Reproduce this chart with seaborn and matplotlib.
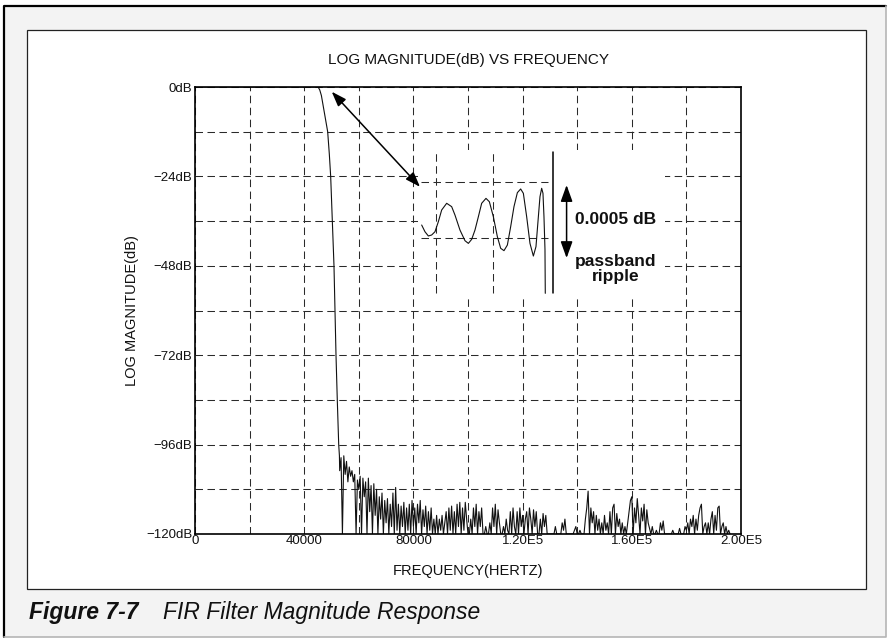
import numpy as np
import pandas as pd
import matplotlib
matplotlib.use("Agg")
import matplotlib.pyplot as plt
import seaborn as sns
from matplotlib.patches import Rectangle
from matplotlib.lines import Line2D

# ---------------- data ----------------
# passband (flat at 0 dB)
pass_freq = [0, 45100]
pass_db = [0.0, 0.0]

# transition band roll-off
trans_freq = [45100, 45700, 46300, 46800, 47500, 48000, 48600, 49200, 49700,
              50290, 50910, 51280, 51650, 52120, 52640, 52900]
trans_db = [0.0, -0.8, -2.3, -4.4, -7.5, -9.5, -12.0, -18.0, -24.0,
            -36.0, -48.0, -60.0, -72.0, -84.0, -96.0, -99.0]

# stopband, sampled every 500 Hz starting at 53 kHz
stop_start_hz = 53000
stop_step_hz = 500
stop_db = [
    -103, -99.5, -120, -99, -104, -100.5, -106, -102, -104.5, -103,       # 53
    -106, -104, -120, -105.5, -108, -104.5, -120, -105, -110, -106,       # 58
    -120, -105, -114, -107, -120, -106.5, -115, -108, -120, -110,         # 63
    -116, -109, -120, -111, -117, -110.5, -120, -112, -118, -109,         # 68
    -120, -107.5, -119, -112, -120, -112.5, -118, -111.5, -120, -113,     # 73
    -119, -112, -120, -111, -118, -113, -120, -112, -117, -111,           # 78
    -120, -113.5, -118, -112.5, -120, -114, -119, -113, -120, -116,       # 83
    -120, -115, -120, -116, -119, -115, -120, -117, -114, -120,           # 88
    -113, -119, -112.5, -120, -114, -120, -112, -118, -111.5, -120,       # 93
    -113, -119, -111.5, -116, -120, -120, -116, -120, -113, -118,         # 98
    -112, -120, -114, -118, -113, -120, -120, -118, -120, -120,           # 103
    -117, -120, -113, -118, -112, -120, -113.5, -117, -120, -120,         # 108
    -118, -120, -116, -119, -120, -114, -120, -113, -118, -120,           # 113
    -114, -120, -113, -118, -115, -120, -116, -114, -120, -113,           # 118
    -116, -120, -113.5, -118, -114, -120, -120, -116, -120, -114.5,       # 123
    -118, -115, -120, -120, -120, -120, -120, -120, -118, -120,           # 128
    -120, -120, -120, -117, -119, -116, -120, -120, -120, -120,           # 133
    -120, -120, -119, -118, -120, -120, -119, -120, -120, -120,           # 138
    -116, -113, -108.5, -120, -113, -117, -114, -120, -115, -119,         # 143
    -116, -120, -117, -120, -115, -119, -117, -120, -114, -120,           # 148
    -113, -112, -120, -114.5, -118, -116, -120, -117, -120, -118,         # 153
    -120, -117, -114, -111, -110, -120, -113, -117, -110.5, -115,         # 158
    -120, -113, -116.5, -112, -120, -113.5, -117, -118.5, -120, -118,     # 163
    -120, -120, -119, -120, -120, -117, -119, -116.5, -120, -120,         # 168
    -120, -120, -120, -120, -119, -120, -120, -120, -120, -118.5,         # 173
    -120, -120, -120, -118, -119, -117, -120, -116, -118, -115,           # 178
    -120, -116, -119, -115, -113, -112, -120, -118, -117, -120,           # 183
    -117, -120, -116, -114, -120, -115, -119, -113, -112.5, -120,         # 188
    -118, -117, -120, -118, -120, -119, -120,                             # 193
]
stop_freq = stop_start_hz + stop_step_hz * np.arange(len(stop_db))

# magnified passband ripple (frequency in Hz, level in micro-dB)
ripple_freq = [30000, 30430, 30870, 31300, 31730, 32170, 32600, 33250, 33900,
               34330, 34980, 35630, 36070, 36500, 36930, 37370, 37800, 38360,
               38800, 39320, 39840, 40270, 40700, 41140, 41570, 42000, 42440,
               42870, 43220, 43650, 44080, 44520, 44860, 45170, 45380, 45600,
               45770, 45900, 46030, 46070]
ripple_udb = [-134, -194, -232, -223, -194, -104, 0, 60, 30, -45, -179, -274,
              -298, -262, -179, -60, 60, 104, 74, -60, -238, -342, -363, -313,
              -149, 30, 155, 188, 149, -60, -298, -411, -327, -60, 119, 194,
              149, -60, -351, -744]
ripple_limit_udb = 250          # +/- 0.00025 dB guide lines
ripple_guide_freq = [31850, 39300]
band_edge_freq = 47120

x_ticks = np.arange(0, 200001, 20000)
x_tick_labels = ["0", "", "40000", "", "80000", "", "1.20E5", "", "1.60E5", "", "2.00E5"]
y_ticks = np.arange(-120, 1, 12)
y_tick_labels = ["\u2212120dB", "", "\u221296dB", "", "\u221272dB", "",
                 "\u221248dB", "", "\u221224dB", "", "0dB"]

# ---------------- style ----------------
sns.set_style("white")
plt.rcParams["font.family"] = ["Liberation Sans", "DejaVu Sans"]
plt.rcParams["axes.unicode_minus"] = True

W, H = 889, 638
fig = plt.figure(figsize=(W / 100, H / 100), dpi=100, facecolor="white")


def fx(px):
    return px / W


def fy(py):
    return 1 - py / H


# page background and frames
fig.add_artist(Rectangle((fx(4), fy(637)), fx(886) - fx(4), fy(6) - fy(637),
                         transform=fig.transFigure, facecolor="#f3f3f3",
                         edgecolor="none", zorder=-10))
fig.add_artist(Line2D([fx(4), fx(4), fx(886)], [fy(637), fy(6), fy(6)],
                      transform=fig.transFigure, color="black", lw=1.6, zorder=-9))
fig.add_artist(Line2D([fx(886), fx(886), fx(4)], [fy(6), fy(637), fy(637)],
                      transform=fig.transFigure, color="#b5b5b5", lw=1.2, zorder=-9))
fig.add_artist(Rectangle((fx(27), fy(589)), fx(866) - fx(27), fy(30) - fy(589),
                         transform=fig.transFigure, facecolor="white",
                         edgecolor="#222222", lw=0.9, zorder=-8))

# ---------------- main axes ----------------
ax = fig.add_axes([fx(195), fy(534), fx(741) - fx(195), fy(87) - fy(534)])
ax.set_facecolor("white")

response = pd.DataFrame({
    "freq": np.concatenate([pass_freq, trans_freq[1:], stop_freq]),
    "db": np.concatenate([pass_db, trans_db[1:], stop_db]),
})
sns.lineplot(data=response, x="freq", y="db", ax=ax, color="#111111",
             linewidth=0.8, estimator=None, sort=False)

ax.set_xlim(0, 200000)
ax.set_ylim(-120, 0)
ax.set_xticks(x_ticks)
ax.set_xticklabels(x_tick_labels)
ax.set_yticks(y_ticks)
ax.set_yticklabels(y_tick_labels)
ax.tick_params(length=0, labelsize=9.5, colors="#111111")
ax.tick_params(axis="y", pad=2)
ax.tick_params(axis="x", pad=1)
ax.grid(True, color="#2a2a2a", linewidth=0.75, linestyle=(0, (7.2, 4.3)))
for sp in ax.spines.values():
    sp.set_visible(True)
    sp.set_color("black")
    sp.set_linewidth(1.2)

ax.set_title("LOG MAGNITUDE(dB) VS FREQUENCY", fontsize=11, y=1 + (87 - 68) / 447,
             va="center", color="#111111")
ax.set_xlabel("FREQUENCY(HERTZ)", fontsize=10.5, color="#111111")
ax.xaxis.set_label_coords(0.5, -(571 - 534) / 447)
ax.xaxis.label.set_va("center")
ax.set_ylabel("LOG MAGNITUDE(dB)", fontsize=10.5, color="#111111")
ax.yaxis.set_label_coords((132 - 195) / 546, 0.5)
ax.yaxis.label.set_va("center")

# ---------------- ripple detail ----------------
axi = fig.add_axes([fx(418), fy(295), fx(665) - fx(418), fy(150) - fy(295)])
axi.set_facecolor("white")
axi.set_xlim(29523, 61633)
axi.set_ylim(-759, 536)
axi.set_xticks([])
axi.set_yticks([])
for sp in axi.spines.values():
    sp.set_visible(False)

dash = (0, (7.2, 4.3))
for lvl in (ripple_limit_udb, -ripple_limit_udb):
    axi.plot([29900, 46430], [lvl, lvl], color="#2a2a2a", lw=0.75, linestyle=dash)
for f in ripple_guide_freq:
    axi.plot([f, f], [-741, 518], color="#2a2a2a", lw=0.75, linestyle=dash)
axi.plot([band_edge_freq, band_edge_freq], [-741, 518], color="black", lw=1.1)

sns.lineplot(x=ripple_freq, y=ripple_udb, ax=axi, color="#111111", linewidth=0.8,
             estimator=None, sort=False)
axi.set_xlabel("")
axi.set_ylabel("")

axi.annotate("", xy=(48840, -429), xytext=(48840, 223),
             arrowprops=dict(arrowstyle="<|-|>,head_length=1.0,head_width=0.36",
                             color="black", lw=1.1, shrinkA=0, shrinkB=0,
                             mutation_scale=10))
axi.text(55260, -85, "0.0005 dB", ha="center", va="center", fontsize=12.5,
         fontweight="bold", color="#111111")
axi.text(55260, -527, "passband\nripple", ha="center", va="center", fontsize=12.5,
         fontweight="bold", linespacing=1.0, color="#111111")

# pointer from the passband to the detail view
axi.annotate("", xy=(82418, -26.8), xycoords=ax.transData,
             xytext=(50073, -1.26), textcoords=ax.transData,
             arrowprops=dict(arrowstyle="<|-|>,head_length=0.9,head_width=0.32",
                             color="black", lw=1.1, shrinkA=0, shrinkB=0,
                             mutation_scale=10))

# ---------------- caption ----------------
fig.text(fx(29), fy(612), "Figure 7-7", fontsize=16.5, fontweight="bold",
         style="italic", va="center", color="#111111")
fig.text(fx(163), fy(612), "FIR Filter Magnitude Response", fontsize=16.5,
         style="italic", va="center", color="#111111")

fig.savefig("out.png", dpi=100, facecolor=fig.get_facecolor())
